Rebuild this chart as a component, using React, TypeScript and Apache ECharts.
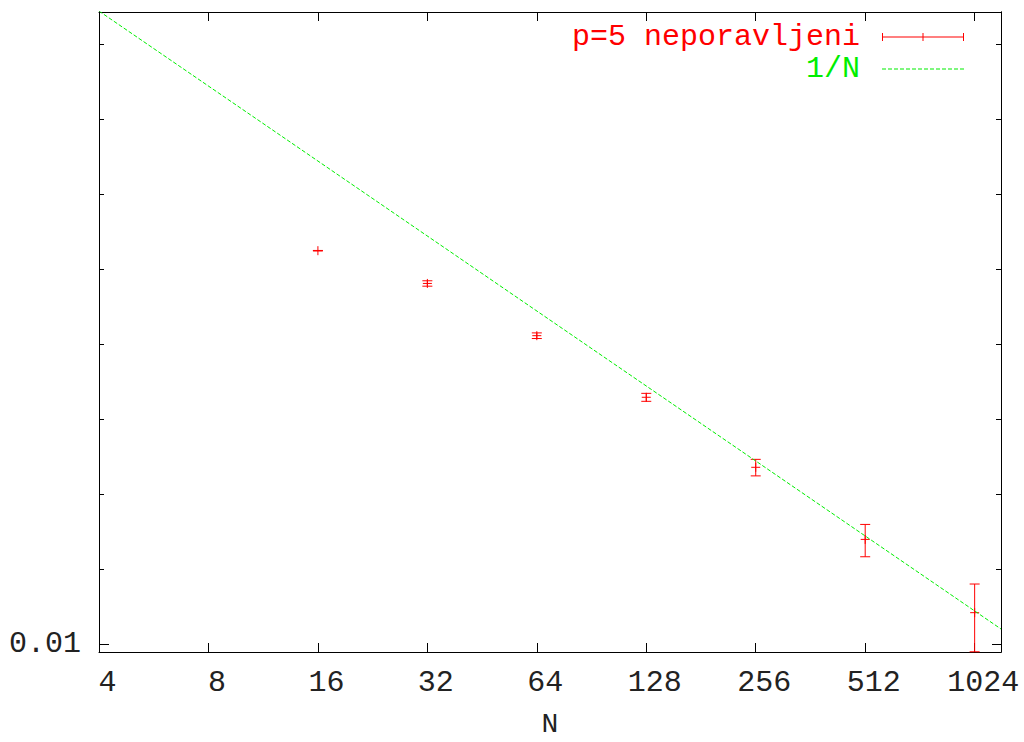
import React, { useEffect, useRef } from "react";
import * as echarts from "echarts";

// ---- data ----
const sizesN = [16, 32, 64, 128, 256, 512, 1024];
const errValues = [0.379, 0.28, 0.1728, 0.0978, 0.0512, 0.0263, 0.01336];
const errDeltas = [0.0008, 0.007, 0.0045, 0.0036, 0.0039, 0.0039, 0.00405];

// reference line "1/N" (straight on log-log), endpoints
const lineN = [4, 1210];
const lineValues = [3.47, 0.01149];

const xTickValues = [4, 8, 16, 32, 64, 128, 256, 512, 1024];
const yMajorTicks = [0.01];
const yMinorTicks = [0.02, 0.04, 0.08, 0.16, 0.32, 0.64, 1.28, 2.56];

const X_MIN = 4;
const X_MAX = 1210;
const Y_MIN = 0.00929;
const Y_MAX = 3.44;

const FONT = "Liberation Mono";
const SERIES_NAME = "p=5 neporavljeni";
const LINE_NAME = "1/N";
const RED = "#ff0000";
const GREEN = "#00ee00";

// legend sample for the dashed line, built from small rectangles
function dashedIconPath(width: number, dash: number, gap: number): string {
  let d = "path://";
  for (let x = 0; x < width; x += dash + gap) {
    const w = Math.min(dash, width - x);
    d += `M${x},0h${w}v1h-${w}z `;
  }
  return d.trim();
}

export default function App() {
  const ref = useRef<HTMLDivElement>(null);

  useEffect(() => {
    if (!ref.current) return;
    const chart = echarts.init(ref.current, undefined, { renderer: "svg" });

    const errData = sizesN.map((n, i) => [
      n,
      errValues[i],
      errValues[i] - errDeltas[i],
      errValues[i] + errDeltas[i],
    ]);
    const lineData = lineN.map((n, i) => [n, lineValues[i]]);

    const axisLine = { show: true, lineStyle: { color: "#000", width: 1 } };

    const xBase = {
      type: "log",
      logBase: 2,
      min: X_MIN,
      max: X_MAX,
      axisLine,
      splitLine: { show: false },
      minorTick: { show: false },
    };

    const yBase = {
      type: "log",
      logBase: 10,
      min: Y_MIN,
      max: Y_MAX,
      axisLine,
      splitLine: { show: false },
      minorTick: { show: false },
    };

    const option: any = {
      animation: false,
      backgroundColor: "#fff",
      grid: {
        left: 99,
        right: 23,
        top: 12,
        bottom: 90,
        containLabel: false,
        outerBoundsMode: "none",
      },
      legend: {
        orient: "vertical",
        right: 60,
        top: 22,
        padding: 0,
        itemGap: 2,
        align: "right",
        itemWidth: 82,
        itemHeight: 8,
        selectedMode: false,
        textStyle: { fontFamily: FONT, fontSize: 30, padding: [0, 17, 0, 0] },
        data: [
          {
            name: SERIES_NAME,
            icon: "path://M0,0h1v8h-1z M0,3.5h82v1h-82z M81,0h1v8h-1z M40.5,0h1v8h-1z",
            textStyle: { color: RED },
          },
          {
            name: LINE_NAME,
            icon: dashedIconPath(82, 4, 2),
            textStyle: { color: GREEN },
          },
        ],
      },
      xAxis: [
        {
          ...xBase,
          position: "bottom",
          name: "N",
          nameLocation: "middle",
          nameGap: 61,
          nameTextStyle: { fontFamily: FONT, fontSize: 28, lineHeight: 22, color: "#222" },
          axisTick: { show: true, inside: true, length: 9, customValues: xTickValues, lineStyle: { color: "#000" } },
          axisLabel: {
            show: true,
            customValues: xTickValues,
            margin: 16,
            fontFamily: FONT,
            fontSize: 30,
            color: "#222",
            padding: [0, 0, 0, 17],
            formatter: (v: number) => String(Math.round(v)),
          },
        },
        {
          ...xBase,
          position: "top",
          axisTick: { show: true, inside: true, length: 9, customValues: xTickValues, lineStyle: { color: "#000" } },
          axisLabel: { show: false },
        },
      ],
      yAxis: [
        {
          ...yBase,
          position: "left",
          axisTick: { show: true, inside: true, length: 10, customValues: yMajorTicks, lineStyle: { color: "#000" } },
          axisLabel: {
            show: true,
            customValues: yMajorTicks,
            margin: 18,
            fontFamily: FONT,
            fontSize: 30,
            color: "#222",
            padding: [6, 0, 0, 0],
            formatter: (v: number) => String(v),
          },
        },
        {
          ...yBase,
          position: "left",
          axisTick: { show: true, inside: true, length: 5, customValues: yMinorTicks, lineStyle: { color: "#000" } },
          axisLabel: { show: false },
        },
        {
          ...yBase,
          position: "right",
          axisTick: { show: true, inside: true, length: 9, customValues: yMajorTicks, lineStyle: { color: "#000" } },
          axisLabel: { show: false },
        },
        {
          ...yBase,
          position: "right",
          axisTick: { show: true, inside: true, length: 5, customValues: yMinorTicks, lineStyle: { color: "#000" } },
          axisLabel: { show: false },
        },
      ],
      series: [
        {
          name: SERIES_NAME,
          type: "custom",
          xAxisIndex: 0,
          yAxisIndex: 0,
          itemStyle: { color: RED },
          encode: { x: 0, y: 1 },
          data: errData,
          renderItem: (params: any, api: any) => {
            const x = api.value(0);
            const v = api.value(1);
            const lo = api.value(2);
            const hi = api.value(3);
            const p = api.coord([x, v]);
            const pLo = api.coord([x, lo]);
            const pHi = api.coord([x, hi]);
            const cap = 5;
            const arm = 4.5;
            const style = { stroke: RED, lineWidth: 1, fill: "none" };
            return {
              type: "group",
              children: [
                { type: "line", shape: { x1: pLo[0], y1: pLo[1], x2: pHi[0], y2: pHi[1] }, style },
                { type: "line", shape: { x1: pLo[0] - cap, y1: pLo[1], x2: pLo[0] + cap, y2: pLo[1] }, style },
                { type: "line", shape: { x1: pHi[0] - cap, y1: pHi[1], x2: pHi[0] + cap, y2: pHi[1] }, style },
                { type: "line", shape: { x1: p[0] - arm, y1: p[1], x2: p[0] + arm, y2: p[1] }, style },
                { type: "line", shape: { x1: p[0], y1: p[1] - arm, x2: p[0], y2: p[1] + arm }, style },
              ],
            };
          },
        },
        {
          name: LINE_NAME,
          type: "line",
          xAxisIndex: 0,
          yAxisIndex: 0,
          symbol: "none",
          color: GREEN,
          lineStyle: { color: GREEN, width: 1, type: [4, 2] },
          data: lineData,
        },
      ],
    };

    chart.setOption(option);
    return () => chart.dispose();
  }, []);

  return (
    <div
      ref={ref}
      style={{ position: "absolute", left: 0, top: 0, width: 1024, height: 742 }}
    />
  );
}
